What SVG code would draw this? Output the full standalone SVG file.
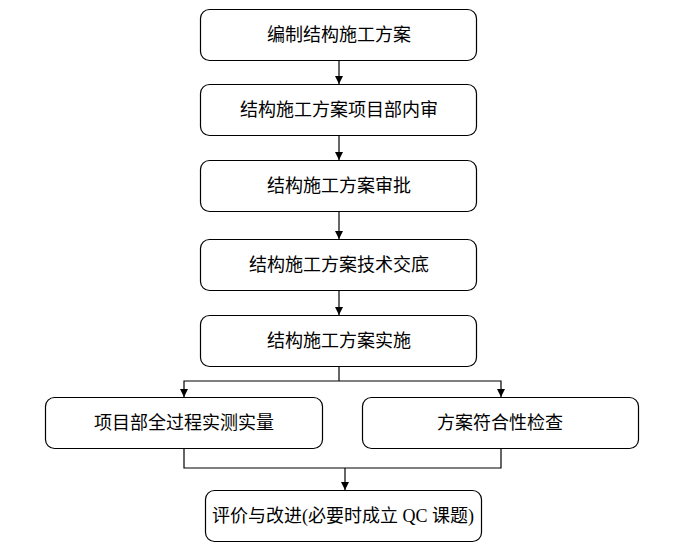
<svg xmlns="http://www.w3.org/2000/svg" width="684" height="549" viewBox="0 0 684 549">
<style>
.box{fill:#fff;stroke:#000;stroke-width:1.2}
.t{font-family:"Liberation Serif","Noto Sans CJK SC",serif;font-size:18px;fill:#000;text-anchor:middle;dominant-baseline:central}
.c{fill:none;stroke:#000;stroke-width:1.2}
</style>
<defs>
<marker id="ah" viewBox="0 0 10 10" refX="10" refY="5" markerWidth="8" markerHeight="8" markerUnits="userSpaceOnUse" orient="auto">
<path d="M0,0 L10,5 L0,10 Z" fill="#000"/>
</marker>
</defs>
<g id="connectors">
<line class="c" x1="339" y1="61" x2="339" y2="84" marker-end="url(#ah)"/>
<line class="c" x1="339" y1="136" x2="339" y2="160" marker-end="url(#ah)"/>
<line class="c" x1="339" y1="212" x2="339" y2="239" marker-end="url(#ah)"/>
<line class="c" x1="339" y1="290" x2="339" y2="315" marker-end="url(#ah)"/>
<polyline class="c" points="339,367 339,381"/>
<polyline class="c" points="339,381 184,381 184,397" marker-end="url(#ah)"/>
<polyline class="c" points="339,381 501,381 501,397" marker-end="url(#ah)"/>
<polyline class="c" points="184,448 184,468 501,468 501,448"/>
<line class="c" x1="345" y1="468" x2="345" y2="490" marker-end="url(#ah)"/>
</g>
<g id="n1"><rect class="box" x="200.5" y="9.5" width="276" height="51" rx="9"/><text class="t" x="339" y="35">编制结构施工方案</text></g>
<g id="n2"><rect class="box" x="200.5" y="84.5" width="276" height="51" rx="9"/><text class="t" x="339" y="110">结构施工方案项目部内审</text></g>
<g id="n3"><rect class="box" x="200.5" y="160.5" width="276" height="51" rx="9"/><text class="t" x="339" y="186">结构施工方案审批</text></g>
<g id="n4"><rect class="box" x="200.5" y="239.5" width="276" height="51" rx="9"/><text class="t" x="339" y="265">结构施工方案技术交底</text></g>
<g id="n5"><rect class="box" x="200.5" y="315.5" width="276" height="51" rx="9"/><text class="t" x="339" y="341">结构施工方案实施</text></g>
<g id="n6"><rect class="box" x="45.5" y="397.5" width="277" height="51" rx="9"/><text class="t" x="184" y="423">项目部全过程实测实量</text></g>
<g id="n7"><rect class="box" x="362.5" y="397.5" width="276" height="51" rx="9"/><text class="t" x="500" y="423">方案符合性检查</text></g>
<g id="n8"><rect class="box" x="205.5" y="490.5" width="276" height="51" rx="9"/><text class="t" x="343" y="516">评价与改进(必要时成立 QC 课题)</text></g>
</svg>
